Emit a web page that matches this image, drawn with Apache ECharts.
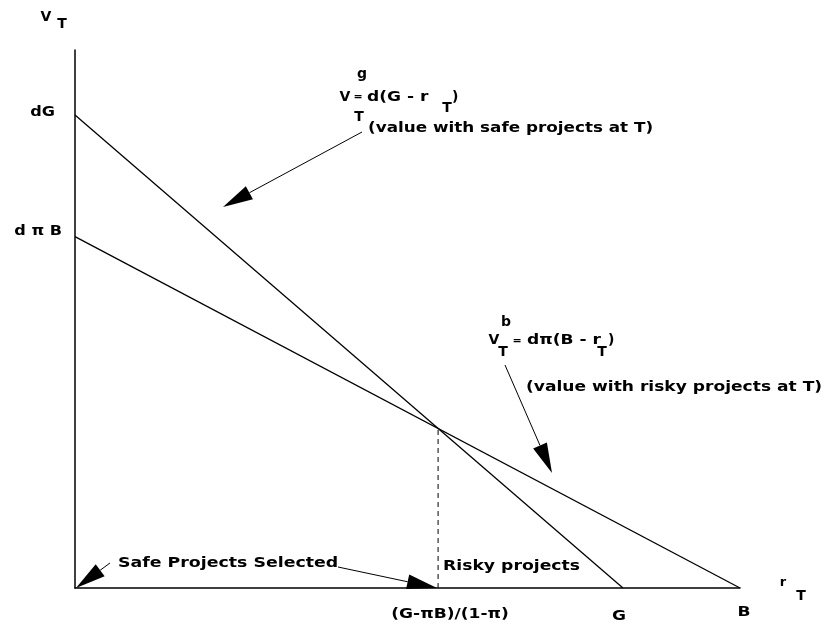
<!DOCTYPE html>
<html>
<head>
    <meta charset="utf-8">
    <title>Safe vs risky projects</title>
    <style>
        html, body { margin: 0; padding: 0; background: #fff; }
        #main { width: 827px; height: 630px; }
    </style>
</head>
<body>
<div id="main"></div>
<script src="https://cdn.jsdelivr.net/npm/echarts@6.0.0/dist/echarts.min.js"></script>
<script>
    // value lines (r_T on x, V_T on y)
    var safeLine = [[0, 7.12], [8.24, 0]];     // V^g = d(G - r)
    var riskyLine = [[0, 5.29], [10, 0]];      // V^b = dπ(B - r)
    var switchLine = [[5.46, 0], [5.46, 2.40]]; // cutoff (G-πB)/(1-π)

    // tick labels
    var xTickValues = [5.46, 8.24, 10];
    var xTickLabels = ['(G-πB)/(1-π)', 'G', 'B'];
    var yTickValues = [7.12, 5.29];
    var yTickLabels = ['dG', 'd π B'];

    // label nudges in px (layout only)
    var xLabelShift = [[12, 26], [-4, 28], [4, 24]];
    var yLabelShift = [[-20, -3], [-13, -5]];

    var font = 'DejaVu Sans';
    var wide = 1.22; // the original type is letter-spaced, stretch a bit
    var myChart = echarts.init(document.getElementById('main'));

    function txt(x, y, s, size, align, sx) {
        return {
            type: 'text', x: x, y: y, scaleX: sx || wide,
            style: {
                text: s, fill: '#000', font: 'bold ' + (size || 14) + 'px "' + font + '"',
                align: align || 'left', verticalAlign: 'middle'
            }
        };
    }

    // arrow = thin shaft + long filled head
    function arrow(x1, y1, x2, y2) {
        var dx = x2 - x1, dy = y2 - y1;
        var len = Math.sqrt(dx * dx + dy * dy);
        var ux = dx / len, uy = dy / len;
        var hl = 30, hw = 7.5;
        var bx = x2 - ux * hl, by = y2 - uy * hl;
        return [
            {type: 'line', shape: {x1: x1, y1: y1, x2: bx, y2: by}, style: {stroke: '#000', lineWidth: 1}},
            {type: 'polygon', shape: {points: [[x2, y2], [bx - uy * hw, by + ux * hw], [bx + uy * hw, by - ux * hw]]},
                style: {fill: '#000'}}
        ];
    }

    var graphics = [
        // axis names
        txt(46, 17, 'V', 14, 'center', 1), txt(62, 24, 'T', 14, 'center', 1),
        txt(783, 583, 'r', 13, 'center', 1), txt(801, 596, 'T', 14, 'center', 1),
        // safe project formula
        txt(362, 74, 'g', 14, 'center', 1),
        txt(345, 97, 'V', 14, 'center', 1),
        txt(359, 117, 'T', 14, 'center', 1),
        txt(358, 97, '=', 11, 'center', 1),
        txt(367, 97, 'd(G - r'),
        txt(447, 108, 'T', 14, 'center', 1),
        txt(452, 97, ')', 14, 'left', 1),
        txt(368, 128, '(value with safe projects at T)', 14, 'left', 1.2),
        // risky project formula
        txt(506, 322, 'b', 14, 'center', 1),
        txt(494, 340, 'V', 14, 'center', 1),
        txt(503, 352, 'T', 14, 'center', 1),
        txt(517, 341, '=', 11, 'center', 1),
        txt(527, 340, 'dπ(B - r'),
        txt(602, 352, 'T', 14, 'center', 1),
        txt(608, 340, ')', 14, 'left', 1),
        txt(526, 387, '(value with risky projects at T)'),
        // region labels
        txt(118, 563, 'Safe Projects Selected', 14, 'left', 1.24),
        txt(443, 566, 'Risky projects', 14, 'left', 1.23)
    ];
    graphics = graphics
        .concat(arrow(362, 132, 223, 207))
        .concat(arrow(505, 365, 552, 473))
        .concat(arrow(110, 563, 76, 588))
        .concat(arrow(338, 567, 437, 588));

    var axisStyle = {show: true, onZero: false, lineStyle: {color: '#000', width: 1.5}};
    var option = {
        animation: false,
        grid: {left: 75, right: 87, top: 50, bottom: 42},
        xAxis: {
            type: 'value', min: 0, max: 10,
            axisLine: axisStyle, axisTick: {show: false},
            splitLine: {show: false}, axisLabel: {show: false}
        },
        yAxis: {
            type: 'value', min: 0, max: 8.1,
            axisLine: axisStyle, axisTick: {show: false},
            splitLine: {show: false}, axisLabel: {show: false}
        },
        series: [
            {
                name: 'safe', type: 'line', data: safeLine, symbol: 'none',
                lineStyle: {color: '#000', width: 1.3}
            },
            {
                name: 'risky', type: 'line', data: riskyLine, symbol: 'none',
                lineStyle: {color: '#000', width: 1.3}
            },
            {
                name: 'cutoff', type: 'line', data: switchLine, symbol: 'none',
                lineStyle: {color: '#000', width: 1, type: [5, 4]}
            }
        ]
    };
    myChart.setOption(option);

    // tick labels placed through the axis scales
    xTickValues.forEach(function (v, i) {
        var p = myChart.convertToPixel({gridIndex: 0}, [v, 0]);
        graphics.push(txt(p[0] + xLabelShift[i][0], p[1] + xLabelShift[i][1], xTickLabels[i], 14, 'center', 1.22));
    });
    yTickValues.forEach(function (v, i) {
        var p = myChart.convertToPixel({gridIndex: 0}, [0, v]);
        graphics.push(txt(p[0] + yLabelShift[i][0], p[1] + yLabelShift[i][1], yTickLabels[i], 14, 'right', 1.15));
    });
    myChart.setOption({graphic: graphics});
</script>
</body>
</html>
